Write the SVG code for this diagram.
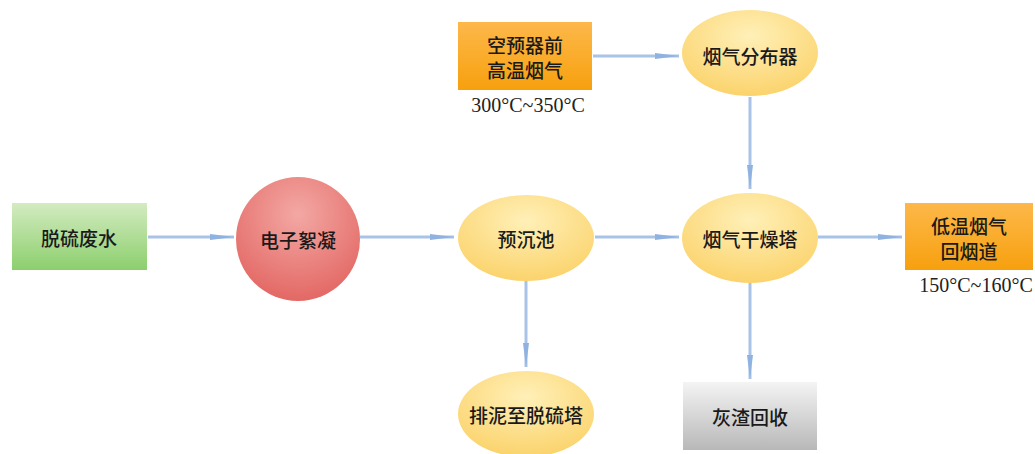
<svg xmlns="http://www.w3.org/2000/svg" width="1035" height="454" viewBox="0 0 1035 454">
<defs>
<linearGradient id="gGreen" x1="0" y1="0" x2="0" y2="1"><stop offset="0" stop-color="#d3ebc1"/><stop offset="1" stop-color="#8ccf6c"/></linearGradient>
<linearGradient id="gOrange" x1="0" y1="0" x2="0" y2="1"><stop offset="0" stop-color="#fdb84a"/><stop offset="1" stop-color="#f7a00e"/></linearGradient>
<linearGradient id="gGray" x1="0" y1="0" x2="0" y2="1"><stop offset="0" stop-color="#f4f4f4"/><stop offset="1" stop-color="#b8b8b8"/></linearGradient>
<radialGradient id="gRed" cx="0.5" cy="0.3" r="0.7"><stop offset="0" stop-color="#f3a8a4"/><stop offset="1" stop-color="#e36864"/></radialGradient>
<radialGradient id="gYellow" cx="0.5" cy="0.3" r="0.7"><stop offset="0" stop-color="#fff0b8"/><stop offset="1" stop-color="#fbd36c"/></radialGradient>
<marker id="arr" viewBox="0 0 24 8" refX="24" refY="4" markerWidth="24" markerHeight="8" markerUnits="userSpaceOnUse" orient="auto">
<path d="M0,1 L24,4 L0,7 Z" fill="#8fb2e0"/>
</marker>
<style>
.lbl{font-family:"Noto Sans CJK SC","Noto Sans",sans-serif;font-size:19px;font-weight:500;fill:#1a1a1a;text-anchor:middle;dominant-baseline:central}
.tmp{font-family:"Liberation Serif","Times New Roman",serif;font-size:20px;fill:#222;text-anchor:middle;dominant-baseline:central}
.con{stroke:#a9c3e6;stroke-width:3;fill:none}
</style>
</defs>
<g id="connectors">
<line class="con" x1="148" y1="237" x2="234" y2="237" marker-end="url(#arr)"/>
<line class="con" x1="360" y1="237" x2="454" y2="237" marker-end="url(#arr)"/>
<line class="con" x1="595" y1="237" x2="679" y2="237" marker-end="url(#arr)"/>
<line class="con" x1="818" y1="237" x2="902" y2="237" marker-end="url(#arr)"/>
<line class="con" x1="593" y1="56" x2="679" y2="56" marker-end="url(#arr)"/>
<line class="con" x1="750" y1="97" x2="750" y2="189" marker-end="url(#arr)"/>
<line class="con" x1="526" y1="281" x2="526" y2="367" marker-end="url(#arr)"/>
<line class="con" x1="750" y1="283" x2="750" y2="379" marker-end="url(#arr)"/>
</g>
<g id="n-wastewater">
<rect x="12" y="203" width="135" height="67" fill="url(#gGreen)"/>
<text class="lbl" x="79" y="237">脱硫废水</text>
</g>
<g id="n-electro">
<circle cx="298" cy="239" r="62" fill="url(#gRed)"/>
<text class="lbl" x="298" y="239">电子絮凝</text>
</g>
<g id="n-presettle">
<ellipse cx="526" cy="238" rx="68" ry="43" fill="url(#gYellow)"/>
<text class="lbl" x="526" y="238">预沉池</text>
</g>
<g id="n-dryer">
<ellipse cx="750" cy="238" rx="68" ry="45" fill="url(#gYellow)"/>
<text class="lbl" x="750" y="238">烟气干燥塔</text>
</g>
<g id="n-lowtemp">
<rect x="905" y="203" width="128" height="67" fill="url(#gOrange)"/>
<text class="lbl" x="969" y="225">低温烟气</text>
<text class="lbl" x="969" y="250">回烟道</text>
<text class="tmp" x="976" y="285">150°C~160°C</text>
</g>
<g id="n-hightemp">
<rect x="458" y="22" width="134" height="68" fill="url(#gOrange)"/>
<text class="lbl" x="525" y="44">空预器前</text>
<text class="lbl" x="525" y="69">高温烟气</text>
<text class="tmp" x="528" y="105">300°C~350°C</text>
</g>
<g id="n-distributor">
<ellipse cx="750" cy="53" rx="68" ry="43" fill="url(#gYellow)"/>
<text class="lbl" x="750" y="55">烟气分布器</text>
</g>
<g id="n-sludge">
<ellipse cx="526" cy="414" rx="68" ry="43" fill="url(#gYellow)"/>
<text class="lbl" x="526" y="414">排泥至脱硫塔</text>
</g>
<g id="n-ash">
<rect x="683" y="382" width="134" height="68" fill="url(#gGray)"/>
<text class="lbl" x="750" y="416">灰渣回收</text>
</g>
</svg>
